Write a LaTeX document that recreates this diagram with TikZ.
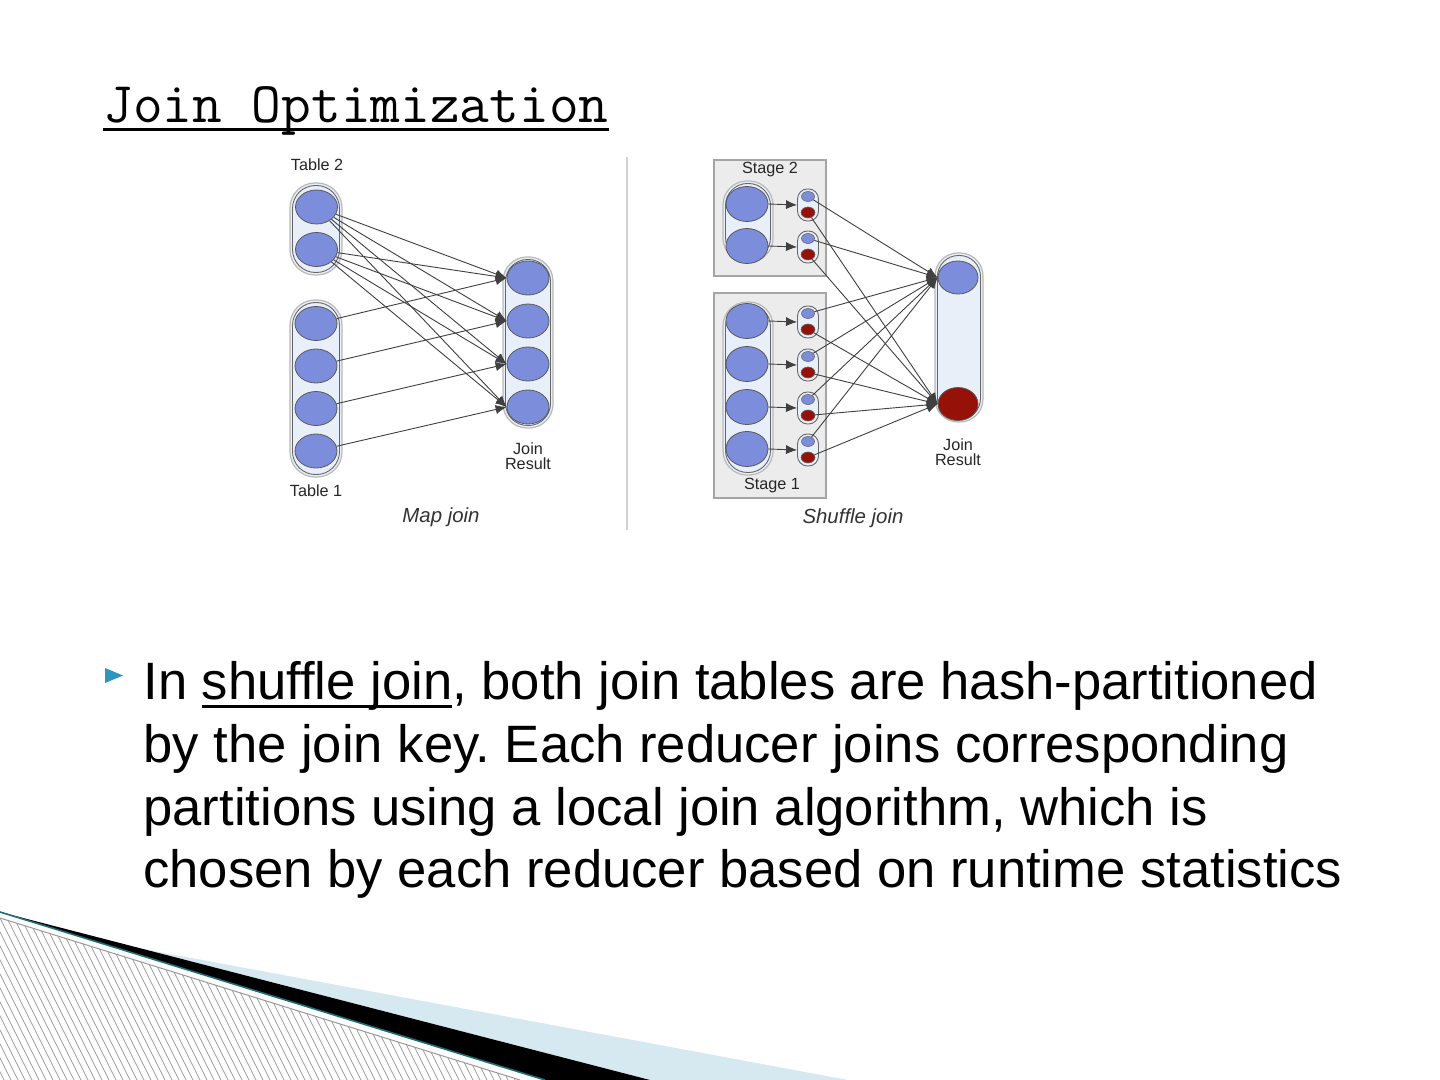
\documentclass[tikz,border=0pt]{standalone}
\usepackage{fontspec}
\setmainfont{Liberation Sans}
\usetikzlibrary{arrows.meta,shapes.geometric}
\definecolor{blueN}{RGB}{124,141,220}
\definecolor{redN}{RGB}{150,18,8}
\definecolor{capfill}{RGB}{233,239,249}
\definecolor{stagefill}{RGB}{236,236,236}
\definecolor{stageline}{RGB}{165,165,165}
\definecolor{bulletc}{RGB}{44,150,190}
\definecolor{bandblue}{RGB}{214,232,240}
\definecolor{tealline}{RGB}{30,110,120}
\newcommand\myul[3]{\setbox0=\hbox{#3}\rlap{\rule[#1]{\wd0}{#2}}\box0}
\frenchspacing
\begin{document}
\begin{tikzpicture}[x=0.5pt,y=-0.5pt,
  capout/.style={rectangle, draw=gray!55, line width=0.6pt, fill=capfill, inner sep=0pt},
  capin/.style={rectangle, draw=black!60, line width=0.45pt, inner sep=0pt},
  bigell/.style={ellipse, draw=black!65, line width=0.4pt, fill=blueN, inner sep=0pt, minimum width=21pt, minimum height=17pt},
  smallcap/.style={rectangle, draw=black!60, line width=0.45pt, fill=capfill, inner sep=0pt, minimum width=10.5pt, minimum height=16pt, rounded corners=5pt},
  sblue/.style={ellipse, draw=black!60, line width=0.3pt, fill=blueN, inner sep=0pt, minimum width=6.5pt, minimum height=5pt},
  sred/.style={ellipse, draw=black!60, line width=0.3pt, fill=redN, inner sep=0pt, minimum width=7pt, minimum height=5.5pt},
  stagebox/.style={rectangle, draw=stageline, line width=0.6pt, fill=stagefill, inner sep=0pt},
  conn/.style={draw=black!75, line width=0.45pt, -{Latex[length=5.5pt,width=4.6pt]}},
  lbl/.style={font=\fontsize{8.1}{7.6}\selectfont, inner sep=0pt, align=center, text=black!85},
  caplbl/.style={font=\fontsize{10.2}{12}\selectfont\itshape, inner sep=0pt, text=black!80},
  body/.style={font=\fontsize{26.3}{31}\selectfont, inner sep=0pt, anchor=base west}
]
\useasboundingbox (0,0) rectangle (1440,1080);
\fill[white] (0,0) rectangle (1440,1080);

% ---- bottom decoration
\fill[bandblue] (143,949) -- (848,1080) -- (650,1080) -- cycle;
\fill[black] (0,912) -- (650,1080) -- (545,1080) -- cycle;
\draw[tealline, line width=0.8pt] (0,912) -- (545,1080);
\begin{scope}
  \clip (0,918) -- (520,1080) -- (0,1080) -- cycle;
  \foreach \x in {-100,-93,...,540} {
    \draw[gray!75, line width=0.35pt] (\x,900) -- (\x+90,1080);
  }
\end{scope}
\draw[gray!80, line width=0.5pt] (0,918) -- (520,1080);

% ---- title
\node[font=\ttfamily\fontsize{28.85}{34}\selectfont\addfontfeature{FakeBold=1.3}, inner sep=0pt, anchor=base west] (title) at (103,123) {\myul{-3.9pt}{1.25pt}{Join Optimization}};

% ---- divider
\draw[gray!35, line width=1pt] (627,157) -- (627,530);

% ---- map join
\node[capout, minimum width=26pt, minimum height=46pt, rounded corners=12.5pt] (t2box) at (316,229) {};
\node[capin, minimum width=23.5pt, minimum height=43.5pt, rounded corners=11.5pt] (t2boxin) at (316,229) {};
\node[capout, minimum width=26pt, minimum height=88.5pt, rounded corners=12.5pt] (t1box) at (316,388.5) {};
\node[capin, minimum width=23.5pt, minimum height=86pt, rounded corners=11.5pt] (t1boxin) at (316,388.5) {};
\node[capout, minimum width=25pt, minimum height=85.5pt, rounded corners=12pt] (rbox) at (528,342.5) {};
\node[capin, minimum width=22.5pt, minimum height=83pt, rounded corners=11pt] (rboxin) at (528,342.5) {};

\node[bigell] (t2a) at (316.5,207) {};
\node[bigell] (t2b) at (316.5,249.5) {};
\node[bigell] (t1a) at (316,323.5) {};
\node[bigell] (t1b) at (316,366) {};
\node[bigell] (t1c) at (316,408.5) {};
\node[bigell] (t1d) at (316,451) {};
\node[bigell] (r1) at (528,278) {};
\node[bigell] (r2) at (528,321) {};
\node[bigell] (r3) at (528,364) {};
\node[bigell] (r4) at (528,407) {};

\foreach \s in {t2a,t2b} {
  \foreach \d in {r1,r2,r3,r4} {
    \draw[conn] (\s) -- (\d.west);
  }
}
\draw[conn] (t1a) -- (r1.west);
\draw[conn] (t1b) -- (r2.west);
\draw[conn] (t1c) -- (r3.west);
\draw[conn] (t1d) -- (r4.west);

\node[lbl] (lt2) at (317,165) {Table 2};
\node[lbl] (lt1) at (316,491) {Table 1};
\node[lbl] (ljr1) at (528,456) {Join\\Result};
\node[caplbl] (lmap) at (441,517) {Map join};

% ---- shuffle join
\node[stagebox, minimum width=56pt, minimum height=58pt] (st2) at (770,218) {};
\node[stagebox, minimum width=56pt, minimum height=102.5pt] (st1) at (770,395.5) {};
\node[capout, minimum width=25pt, minimum height=40.5pt, rounded corners=12pt] (s2box) at (748,221.5) {};
\node[capin, minimum width=22.5pt, minimum height=38pt, rounded corners=11pt] (s2boxin) at (748,221.5) {};
\node[capout, minimum width=25pt, minimum height=86.5pt, rounded corners=12pt] (s1box) at (748,388.5) {};
\node[capin, minimum width=22.5pt, minimum height=84pt, rounded corners=11pt] (s1boxin) at (748,388.5) {};
\node[capout, minimum width=24pt, minimum height=84.5pt, rounded corners=11.5pt] (srbox) at (959,337.5) {};
\node[capin, minimum width=21.5pt, minimum height=82pt, rounded corners=10.5pt] (srboxin) at (959,337.5) {};

\node[lbl] (lst2) at (770,170) {Stage 2};
\node[lbl] (lst1) at (772,486) {Stage 1};

\foreach \n/\y in {a/204,b/246,c/321,d/364,e/407,f/449} {
  \node[bigell, minimum height=17.5pt] (big\n) at (747,\y) {};
  \node[smallcap] (cap\n) at (808,\y+1) {};
  \node[sblue] (bl\n) at (808,\y-7.5) {};
  \node[sred] (rd\n) at (808,\y+8.5) {};
  \draw[conn] (big\n.east) -- (cap\n.west);
}

\node[bigell, minimum width=20pt, minimum height=16.5pt] (rb) at (958,277.5) {};
\node[bigell, fill=redN, minimum width=20pt, minimum height=16.5pt] (rr) at (958,404) {};

\foreach \n in {a,b,c,d,e,f} {
  \draw[conn] (bl\n) -- (rb.west);
  \draw[conn] (rd\n) -- (rr.west);
}

\node[lbl] (ljr2) at (958,452) {Join\\Result};
\node[caplbl] (lshuf) at (853,518) {Shuffle join};

% ---- bullet and body text
\fill[bulletc] (105,668) -- (123,675.5) -- (105,683) -- cycle;
\node[body] (l1) at (143,699.5) {In \myul{-4.2pt}{1.6pt}{shuffle join}, both join tables are hash-partitioned};
\node[body] (l2) at (143,762.2) {by the join key. Each reducer joins corresponding};
\node[body] (l3) at (143,825) {partitions using a local join algorithm, which is};
\node[body] (l4) at (143,887.7) {chosen by each reducer based on runtime statistics};
\end{tikzpicture}
\end{document}
